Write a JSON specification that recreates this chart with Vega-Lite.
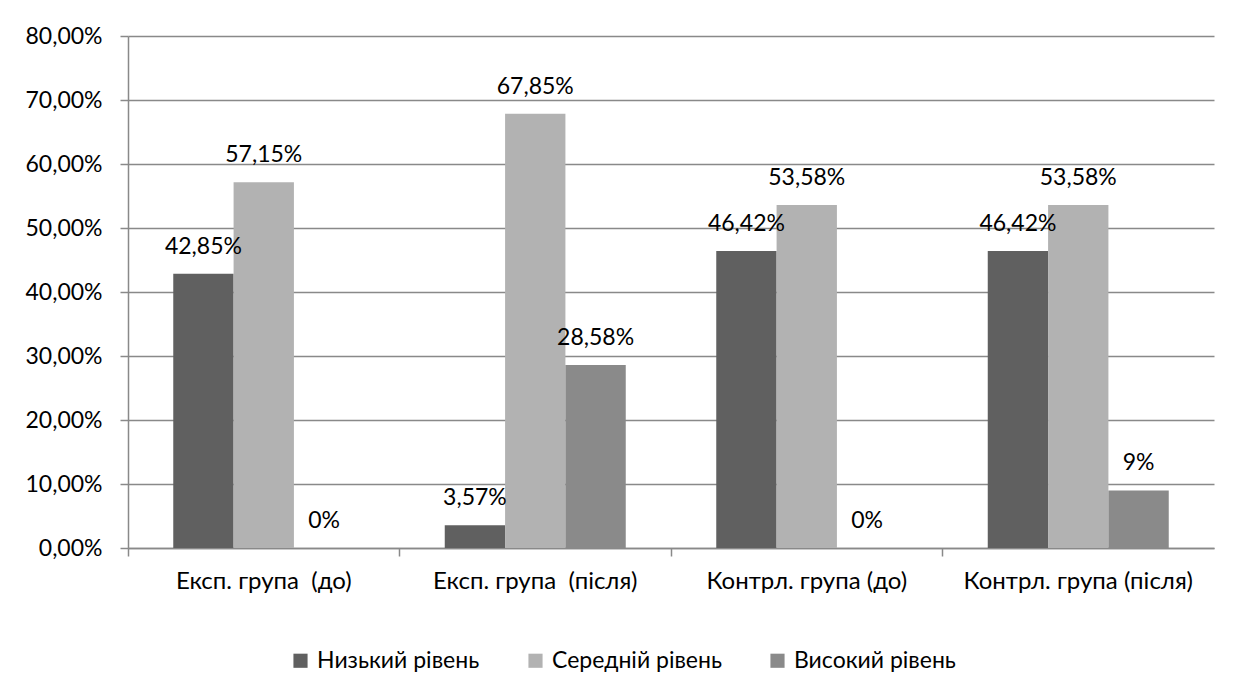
{
  "$schema": "https://vega.github.io/schema/vega-lite/v6.json",
  "width": 1086,
  "height": 512,
  "autosize": {"type": "none"},
  "padding": {"left": 128, "top": 36, "right": 34, "bottom": 125},
  "background": "white",
  "config": {
    "font": "Lato",
    "view": {"stroke": null},
    "axis": {"labelFont": "Lato", "labelFontSize": 23, "labelColor": "#000000", "labelLimit": 0},
    "legend": {"labelFont": "Lato", "labelFontSize": 23, "labelColor": "#000000", "labelLimit": 0}
  },
  "data": {
    "values": [
      {"group": "Експ. група  (до)", "level": "Низький рівень", "value": 0.4285, "label": "42,85%"},
      {"group": "Експ. група  (до)", "level": "Середній рівень", "value": 0.5715, "label": "57,15%"},
      {"group": "Експ. група  (до)", "level": "Високий рівень", "value": 0, "label": "0%"},
      {"group": "Експ. група  (після)", "level": "Низький рівень", "value": 0.0357, "label": "3,57%"},
      {"group": "Експ. група  (після)", "level": "Середній рівень", "value": 0.6785, "label": "67,85%"},
      {"group": "Експ. група  (після)", "level": "Високий рівень", "value": 0.2858, "label": "28,58%"},
      {"group": "Контрл. група (до)", "level": "Низький рівень", "value": 0.4642, "label": "46,42%"},
      {"group": "Контрл. група (до)", "level": "Середній рівень", "value": 0.5358, "label": "53,58%"},
      {"group": "Контрл. група (до)", "level": "Високий рівень", "value": 0, "label": "0%"},
      {"group": "Контрл. група (після)", "level": "Низький рівень", "value": 0.4642, "label": "46,42%"},
      {"group": "Контрл. група (після)", "level": "Середній рівень", "value": 0.5358, "label": "53,58%"},
      {"group": "Контрл. група (після)", "level": "Високий рівень", "value": 0.09, "label": "9%"}
    ]
  },
  "encoding": {
    "x": {
      "field": "group",
      "type": "nominal",
      "sort": null,
      "scale": {"paddingInner": 0, "paddingOuter": 0},
      "title": null
    },
    "xOffset": {
      "field": "level",
      "type": "nominal",
      "sort": ["Низький рівень", "Середній рівень", "Високий рівень"],
      "scale": {"paddingInner": 0, "paddingOuter": 0.75}
    },
    "y": {
      "field": "value",
      "type": "quantitative",
      "scale": {"domain": [0, 0.8], "nice": false},
      "title": null
    }
  },
  "resolve": {"axis": {"x": "independent"}},
  "layer": [
    {
      "mark": {"type": "bar"},
      "encoding": {
        "x": {
          "field": "group",
          "type": "nominal",
          "sort": null,
          "title": null,
          "axis": {
            "orient": "bottom",
            "labelAngle": 0,
            "labelPadding": 21,
            "labelFontSize": 24,
            "labelExpr": "replace(datum.label, '  ', ' \u00a0')",
            "ticks": false,
            "domain": true,
            "domainColor": "#898989",
            "domainWidth": 1.5,
            "grid": false
          }
        },
        "y": {
          "field": "value",
          "type": "quantitative",
          "title": null,
          "axis": {
            "values": [0, 0.1, 0.2, 0.3, 0.4, 0.5, 0.6, 0.7, 0.8],
            "labelExpr": "replace(format(datum.value, '.2%'), '.', ',')",
            "grid": true,
            "gridColor": "#898989",
            "gridWidth": 1.5,
            "domainColor": "#898989",
            "domainWidth": 1.5,
            "tickColor": "#898989",
            "tickWidth": 1.5,
            "tickSize": 8,
            "labelPadding": 18
          }
        },
        "color": {
          "field": "level",
          "type": "nominal",
          "sort": ["Низький рівень", "Середній рівень", "Високий рівень"],
          "scale": {"range": ["#606060", "#b2b2b2", "#8a8a8a"]},
          "legend": {
            "title": null,
            "orient": "none",
            "legendX": 161,
            "legendY": 613,
            "padding": 0,
            "direction": "horizontal",
            "symbolType": "square",
            "symbolSize": 200,
            "symbolStrokeWidth": 0,
            "symbolOpacity": 1,
            "columnPadding": 44,
            "labelOffset": 5
          }
        }
      }
    },
    {
      "mark": {"type": "text", "baseline": "alphabetic", "dy": -20, "fontSize": 23, "font": "Lato", "color": "#000000"},
      "encoding": {
        "x": {
          "field": "group",
          "type": "nominal",
          "sort": null,
          "title": null,
          "axis": {
            "orient": "bottom",
            "bandPosition": 0,
            "labels": false,
            "domain": false,
            "grid": false,
            "ticks": true,
            "tickColor": "#898989",
            "tickWidth": 1.5,
            "tickSize": 8
          }
        },
        "text": {"field": "label"}
      }
    }
  ]
}
